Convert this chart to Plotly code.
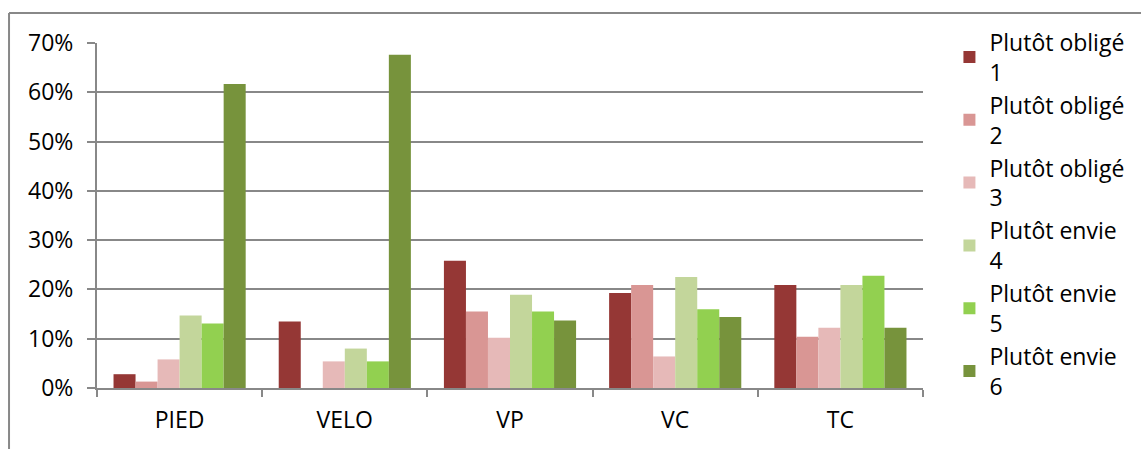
import plotly.graph_objects as go

categories = ["PIED", "VELO", "VP", "VC", "TC"]
series_names = ["Plutôt obligé<br>1", "Plutôt obligé<br>2", "Plutôt obligé<br>3",
                "Plutôt envie<br>4", "Plutôt envie<br>5", "Plutôt envie<br>6"]
s1 = [0.028, 0.135, 0.258, 0.193, 0.209]
s2 = [0.013, 0.0, 0.155, 0.209, 0.104]
s3 = [0.058, 0.054, 0.102, 0.064, 0.122]
s4 = [0.147, 0.080, 0.189, 0.225, 0.209]
s5 = [0.131, 0.054, 0.155, 0.160, 0.228]
s6 = [0.617, 0.676, 0.137, 0.144, 0.122]
colors = ["#953735", "#D99694", "#E6B9B8", "#C3D69B", "#92D050", "#77933C"]
y_ticks = [0, 0.1, 0.2, 0.3, 0.4, 0.5, 0.6, 0.7]

FONT = "Open Sans"
GRAY = "#888888"

fig = go.Figure()
for name, vals, col in zip(series_names, [s1, s2, s3, s4, s5, s6], colors):
    fig.add_trace(go.Bar(x=categories, y=vals, name=name,
                         marker=dict(color=col, line=dict(width=0))))

fig.update_layout(
    width=1141, height=449,
    margin=dict(l=97, r=218, t=43, b=61, autoexpand=False),
    paper_bgcolor="white", plot_bgcolor="white",
    barmode="group", bargap=0.2, bargroupgap=0,
    font=dict(family=FONT, size=23, color="black"),
    legend=dict(x=1.032, y=1.065, xanchor="left", yanchor="top",
                font=dict(family=FONT, size=23, color="black"),
                tracegroupgap=0, itemwidth=30, bgcolor="rgba(0,0,0,0)",
                maxheight=449),
    showlegend=True,
)
fig.update_xaxes(showline=True, linecolor=GRAY, linewidth=2,
                 ticks="outside", tickson="boundaries", ticklen=7,
                 tickcolor=GRAY, tickwidth=2, ticklabelstandoff=10,
                 showgrid=False, tickfont=dict(family=FONT, size=23))
fig.update_yaxes(range=[0, 0.7], tickvals=y_ticks, tickformat=".0%",
                 showline=True, linecolor=GRAY, linewidth=2,
                 ticks="outside", ticklen=8, tickcolor=GRAY, tickwidth=2,
                 ticklabelstandoff=9,
                 showgrid=True, gridcolor=GRAY, gridwidth=2,
                 zeroline=False, tickfont=dict(family=FONT, size=23))

# outer chart border (top and left edges visible)
fig.add_shape(type="line", xref="paper", yref="paper",
              x0=-0.1065, x1=1.3, y0=1.087, y1=1.087,
              line=dict(color=GRAY, width=2))
fig.add_shape(type="line", xref="paper", yref="paper",
              x0=-0.1065, x1=-0.1065, y0=1.087, y1=-0.2,
              line=dict(color=GRAY, width=2))

fig.write_html("out.html", config={"displayModeBar": False},
               post_script="document.body.style.margin='0';")
